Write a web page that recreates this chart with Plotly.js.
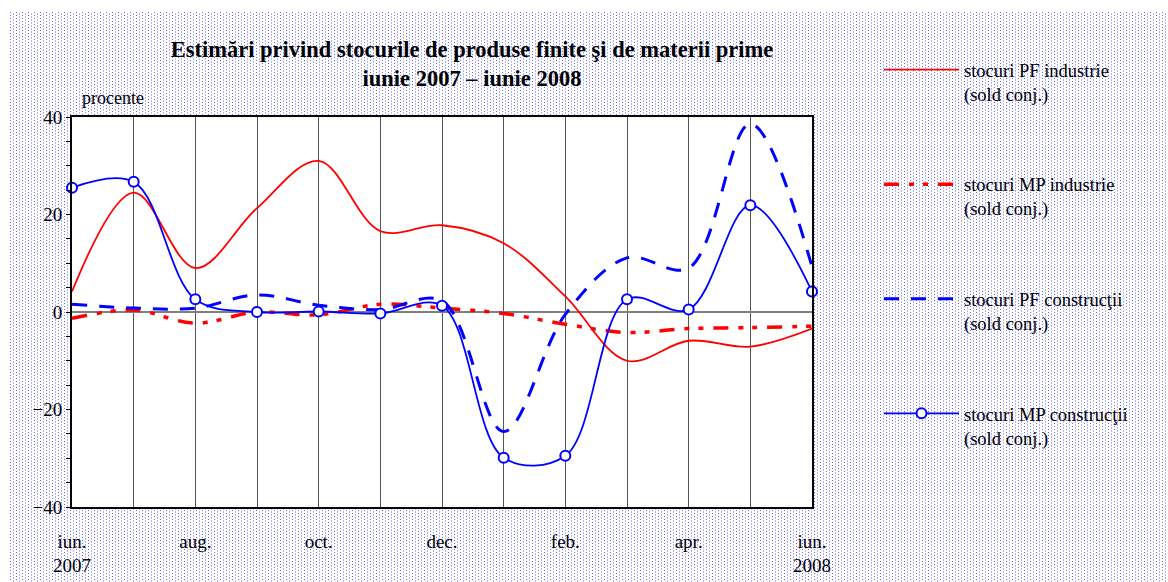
<!DOCTYPE html>
<html>
<head>
<meta charset="utf-8">
<script src="https://cdn.plot.ly/plotly-3.0.1.min.js"></script>
<style>
  html, body { margin: 0; padding: 0; background: #ffffff; }
  #bg {
    position: absolute; left: 10px; top: 12px; width: 1158px; height: 570px;
    background-image: url("data:image/svg+xml,%3Csvg xmlns='http://www.w3.org/2000/svg' width='6' height='3' shape-rendering='crispEdges'%3E%3Crect x='0' y='0' width='1' height='1' fill='%236464ff'/%3E%3Crect x='3' y='1' width='1' height='2' fill='%23b4b4ff'/%3E%3C/svg%3E");
    image-rendering: pixelated;
  }
  #chart { position: absolute; left: 0; top: 0; width: 1168px; height: 582px; }
</style>
</head>
<body>
<div id="bg"></div>
<div id="chart"></div>
<script>
// Months (June 2007 - June 2008)
const months = ['iun. 2007','iul. 2007','aug. 2007','sep. 2007','oct. 2007','nov. 2007','dec. 2007',
                'ian. 2008','feb. 2008','mar. 2008','apr. 2008','mai 2008','iun. 2008'];
const tickLabels = ['iun.<br>2007','','aug.','','oct.','','dec.','','feb.','','apr.','','iun.<br>2008'];

// Series values (sold conjunctural, procente)
const pfIndustrie   = [4.2, 24.5, 9.0, 21.3, 31.0, 16.6, 17.8, 14.1, 3.2, -10.0, -5.9, -7.1, -3.4];
const mpIndustrie   = [-1.3, 0.4, -2.3, 0.0, -0.6, 1.6, 0.8, -0.3, -2.5, -4.2, -3.4, -3.2, -2.9];
const pfConstructii = [1.6, 0.8, 0.8, 3.5, 1.4, 0.5, 2.3, -24.5, -0.5, 11.1, 9.0, 38.6, 9.3];
const mpConstructii = [25.5, 26.7, 2.6, 0.0, 0.1, -0.3, 1.3, -29.9, -29.5, 2.6, 0.5, 21.9, 4.2];

const names = ['stocuri PF industrie<br>(sold conj.)',
               'stocuri MP industrie<br>(sold conj.)',
               'stocuri PF construcţii<br>(sold conj.)',
               'stocuri MP construcţii<br>(sold conj.)'];

const serif = 'Liberation Serif, Times New Roman, serif';

const traces = [
  {x: months, y: pfIndustrie, name: names[0], type: 'scatter', mode: 'lines',
   line: {color: '#ff0000', width: 1.8, shape: 'spline'}, legendgroup: 'a', cliponaxis: false},
  {x: months, y: mpIndustrie, name: names[1], type: 'scatter', mode: 'lines',
   line: {color: '#ff0000', width: 3.5, shape: 'spline', dash: '15px,10px,5px,9px,5px,10px'}, legendgroup: 'b', cliponaxis: false},
  {x: months, y: pfConstructii, name: names[2], type: 'scatter', mode: 'lines',
   line: {color: '#0000ff', width: 3, shape: 'spline', dash: '15px,12px'}, legendgroup: 'c', cliponaxis: false},
  {x: months, y: mpConstructii, name: names[3], type: 'scatter', mode: 'lines+markers',
   line: {color: '#0000ff', width: 1.8, shape: 'spline'},
   marker: {symbol: 'circle', size: 10, color: '#ffffff', line: {color: '#0000ff', width: 2}},
   legendgroup: 'd', cliponaxis: false}
];

const layout = {
  width: 1168, height: 582,
  margin: {l: 72, r: 356, t: 117, b: 75},
  paper_bgcolor: 'rgba(0,0,0,0)',
  plot_bgcolor: '#ffffff',
  font: {family: serif, color: '#000000', size: 19},
  title: {
    text: '<b>Estimări privind stocurile de produse finite şi de materii prime<br>iunie 2007 – iunie 2008</b>',
    font: {family: serif, size: 22.5, color: '#000000'},
    x: 472/1168, xref: 'container', xanchor: 'center',
    y: 1 - 57/582, yref: 'container', yanchor: 'top'
  },
  xaxis: {
    type: 'category', categoryarray: months,
    range: [0, 12],
    tickvals: months, ticktext: tickLabels,
    ticks: '', showgrid: true, gridcolor: '#555555', gridwidth: 1,
    showline: true, linecolor: '#000000', linewidth: 1.5, mirror: true,
    tickfont: {family: serif, size: 19, color: '#000000'},
    ticklabelstandoff: 16,
    zeroline: false
  },
  yaxis: {
    range: [-40, 40], tickvals: [-40, -20, 0, 20, 40],
    ticks: 'outside', ticklen: 4, tickcolor: '#000000', tickwidth: 1,
    minor: {dtick: 5, ticks: 'outside', ticklen: 4, tickcolor: '#000000', showgrid: false},
    showgrid: false,
    zeroline: true, zerolinecolor: '#808080', zerolinewidth: 1.5,
    showline: true, linecolor: '#000000', linewidth: 2, mirror: true,
    tickfont: {family: serif, size: 19, color: '#000000'}
  },
  showlegend: true,
  legend: {
    xref: 'container', yref: 'container',
    x: 879/1168, xanchor: 'left',
    y: 1 - 51/582, yanchor: 'top',
    bgcolor: 'rgba(0,0,0,0)', borderwidth: 0,
    font: {family: serif, size: 18.5, color: '#000000'},
    itemwidth: 75, valign: 'top',
    traceorder: 'grouped', tracegroupgap: 63.5,
    maxheight: 540
  },
  annotations: [
    {text: 'procente', xref: 'paper', yref: 'paper', x: 8/740, y: 1 + 19/390,
     xanchor: 'left', yanchor: 'middle', showarrow: false,
     font: {family: serif, size: 18, color: '#000000'}}
  ]
};

Plotly.newPlot('chart', traces, layout, {displayModeBar: false, responsive: false});
</script>
</body>
</html>
